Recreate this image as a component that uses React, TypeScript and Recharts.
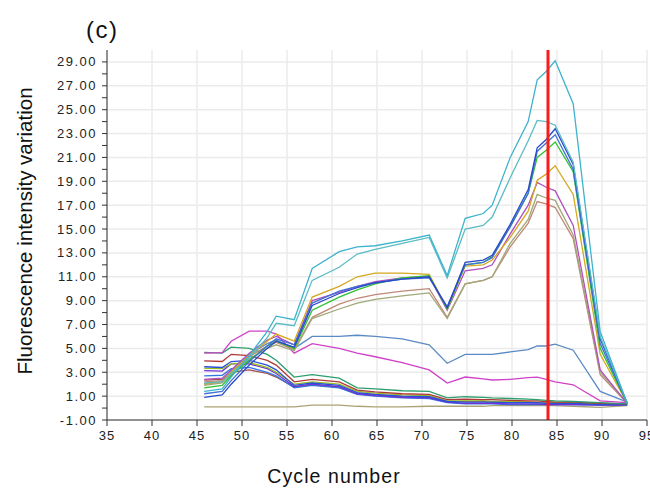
import { LineChart, Line, XAxis, YAxis, CartesianGrid, ReferenceLine } from "recharts";

// melt positions (x) shared by every curve
const cycles = [45.8, 47.8, 48.8, 50.8, 52.8, 53.8, 55.8, 57.8, 60.8, 62.8, 64.8, 67.8, 70.8, 72.8, 74.8, 76.8, 77.8, 79.8, 81.8, 82.8, 83.8, 84.8, 86.8, 89.8, 92.8];

const tealA = [1.4, 1.6, 2.6, 4.4, 6.4, 7.7, 7.4, 11.7, 13.1, 13.5, 13.6, 14.0, 14.5, 11.1, 15.9, 16.3, 17.0, 21.0, 24.0, 27.5, 28.2, 29.1, 25.5, 6.4, 0.4];
const tealB = [2.1, 2.2, 2.9, 4.2, 5.9, 7.1, 6.9, 10.7, 11.8, 12.9, 13.3, 13.8, 14.3, 10.9, 15.0, 15.3, 16.0, 19.3, 22.4, 24.1, 24.0, 23.7, 20.6, 6.0, 0.4];
const blueDark = [0.9, 1.1, 2.0, 3.6, 5.0, 5.6, 5.1, 8.6, 9.6, 10.1, 10.5, 10.8, 11.0, 8.4, 12.2, 12.4, 12.8, 15.4, 18.3, 21.8, 22.5, 23.4, 20.4, 5.8, 0.4];
const blueMid = [1.2, 1.4, 2.3, 3.9, 5.2, 5.8, 5.3, 8.8, 9.8, 10.2, 10.5, 10.8, 10.9, 8.5, 12.0, 12.2, 12.6, 15.2, 18.0, 21.5, 22.2, 22.9, 20.0, 5.4, 0.4];
const green = [1.7, 1.9, 2.7, 4.0, 5.2, 5.6, 5.0, 8.2, 9.3, 9.9, 10.4, 10.9, 11.1, 8.3, 12.0, 12.2, 12.7, 15.2, 18.0, 21.0, 21.6, 22.3, 19.8, 5.0, 0.4];
const gold = [2.0, 2.2, 3.0, 4.4, 5.6, 6.2, 5.6, 9.3, 10.2, 11.0, 11.3, 11.3, 11.2, 8.3, 11.9, 12.0, 12.4, 14.3, 16.5, 19.1, 19.6, 20.3, 17.9, 4.5, 0.4];
const purple = [2.4, 2.5, 3.2, 4.6, 5.7, 6.0, 5.3, 9.0, 9.7, 10.2, 10.6, 10.9, 11.0, 8.2, 11.5, 11.7, 12.0, 14.6, 17.0, 18.9, 18.5, 18.2, 15.3, 3.2, 0.4];
const olive = [1.9, 2.1, 2.8, 4.1, 5.0, 5.3, 4.8, 7.5, 8.3, 8.8, 9.1, 9.4, 9.65, 7.5, 10.4, 10.7, 11.0, 13.8, 15.8, 17.9, 17.6, 17.4, 14.5, 3.0, 0.4];
const rose = [2.2, 2.3, 3.0, 4.3, 5.2, 5.5, 4.9, 7.6, 8.7, 9.2, 9.5, 9.8, 10.0, 7.6, 10.4, 10.7, 11.0, 13.5, 15.5, 17.3, 17.1, 16.8, 14.2, 2.8, 0.4];
const steel = [2.0, 2.2, 3.1, 4.5, 5.4, 5.7, 5.0, 6.0, 6.0, 6.1, 6.0, 5.8, 5.3, 3.75, 4.5, 4.5, 4.5, 4.7, 4.9, 5.2, 5.2, 5.35, 4.85, 1.4, 0.5];
const magenta = [4.6, 4.65, 5.6, 6.45, 6.45, 6.2, 4.6, 5.4, 5.0, 4.6, 4.3, 3.8, 3.2, 2.1, 2.6, 2.45, 2.35, 2.4, 2.55, 2.6, 2.4, 2.2, 1.95, 0.6, 0.45];
const lowGreen = [4.66, 4.6, 5.1, 5.0, 4.5, 4.0, 2.6, 2.8, 2.5, 1.7, 1.6, 1.45, 1.4, 0.85, 0.95, 0.9, 0.85, 0.8, 0.75, 0.7, 0.65, 0.6, 0.55, 0.45, 0.35];
const lowRed = [3.96, 3.9, 4.5, 4.4, 4.0, 3.6, 2.2, 2.4, 2.2, 1.5, 1.35, 1.2, 1.15, 0.7, 0.75, 0.7, 0.7, 0.65, 0.6, 0.6, 0.55, 0.5, 0.5, 0.4, 0.35];
const lowBlue = [3.46, 3.4, 3.9, 4.0, 3.6, 3.2, 1.9, 2.1, 1.9, 1.3, 1.15, 1.0, 0.95, 0.55, 0.5, 0.5, 0.5, 0.45, 0.45, 0.45, 0.4, 0.4, 0.4, 0.3, 0.3];
const lowLime = [3.33, 3.3, 3.7, 3.8, 3.4, 3.0, 2.0, 2.2, 2.0, 1.4, 1.25, 1.1, 1.05, 0.6, 0.6, 0.6, 0.55, 0.55, 0.5, 0.5, 0.5, 0.45, 0.45, 0.35, 0.3];
const lowViolet = [3.13, 3.1, 3.7, 3.7, 3.3, 2.9, 1.8, 2.0, 1.8, 1.2, 1.05, 0.9, 0.85, 0.5, 0.4, 0.4, 0.4, 0.35, 0.35, 0.35, 0.3, 0.3, 0.3, 0.25, 0.25];
const lowSky = [2.7, 2.75, 3.3, 3.4, 3.0, 2.7, 1.7, 1.9, 1.7, 1.15, 1.0, 0.85, 0.8, 0.45, 0.35, 0.35, 0.35, 0.3, 0.3, 0.3, 0.3, 0.3, 0.3, 0.25, 0.25];
const lowBrick = [2.35, 2.4, 3.0, 3.2, 2.9, 2.6, 1.75, 1.95, 1.75, 1.2, 1.1, 0.95, 0.9, 0.55, 0.55, 0.55, 0.5, 0.5, 0.5, 0.45, 0.45, 0.45, 0.4, 0.35, 0.3];
const flat = [0.1, 0.1, 0.1, 0.1, 0.1, 0.1, 0.1, 0.25, 0.25, 0.15, 0.1, 0.1, 0.15, 0.15, 0.15, 0.15, 0.2, 0.2, 0.2, 0.2, 0.2, 0.2, 0.15, 0.05, 0.2];

const xTicks = [35, 40, 45, 50, 55, 60, 65, 70, 75, 80, 85, 90, 95];
const yTicks = [-1, 0, 1, 2, 3, 4, 5, 6, 7, 8, 9, 10, 11, 12, 13, 14, 15, 16, 17, 18, 19, 20, 21, 22, 23, 24, 25, 26, 27, 28, 29];
const yLabels = [-1, 1, 3, 5, 7, 9, 11, 13, 15, 17, 19, 21, 23, 25, 27, 29];

const series = [
  { key: "flat", color: "#aaa274", values: flat },
  { key: "lowBrick", color: "#a85050", values: lowBrick },
  { key: "lowSky", color: "#3078e0", values: lowSky },
  { key: "lowViolet", color: "#7030d8", values: lowViolet },
  { key: "lowLime", color: "#98c020", values: lowLime },
  { key: "lowBlue", color: "#2850d8", values: lowBlue },
  { key: "lowRed", color: "#b03838", values: lowRed },
  { key: "lowGreen", color: "#2e9e6e", values: lowGreen },
  { key: "magenta", color: "#d040c8", values: magenta },
  { key: "steel", color: "#5b8bc4", values: steel },
  { key: "rose", color: "#c08878", values: rose },
  { key: "olive", color: "#a0a878", values: olive },
  { key: "purple", color: "#b050c0", values: purple },
  { key: "gold", color: "#d4a820", values: gold },
  { key: "green", color: "#30c030", values: green },
  { key: "blueMid", color: "#4070d8", values: blueMid },
  { key: "blueDark", color: "#2848c8", values: blueDark },
  { key: "tealB", color: "#5bbcc4", values: tealB },
  { key: "tealA", color: "#3db3cc", values: tealA },
];

const data = cycles.map((c, i) => {
  const row: Record<string, number> = { cycle: c };
  series.forEach((s) => (row[s.key] = s.values[i]));
  return row;
});

const font = "Arial, 'Liberation Sans', sans-serif";

const YTick = ({ x, y, payload }: any) => {
  const v = payload.value;
  if (Math.abs(v % 2) !== 1) return <g />;
  return (
    <text x={x} y={y} dy={4.5} textAnchor="end" fontSize={13} letterSpacing={1.5} fill="#222" fontFamily={font}>
      {v.toFixed(2)}
    </text>
  );
};

export default function App() {
  return (
    <div style={{ position: "absolute", left: 0, top: 0, width: 650, height: 489, background: "#fff" }}>
      <LineChart width={650} height={489} data={data} margin={{ top: 50, right: 3, left: 0, bottom: 39 }}>
        <CartesianGrid horizontal={false} stroke="#ebebeb" strokeWidth={1.5} />
        {yLabels.map((v) => (
          <ReferenceLine key={v} y={v} stroke="#ebebeb" strokeWidth={1.5} />
        ))}
        <XAxis
          dataKey="cycle"
          type="number"
          domain={[35, 95]}
          ticks={xTicks}
          interval={0}
          tickSize={6}
          tickMargin={5}
          axisLine={{ stroke: "#333" }}
          tickLine={{ stroke: "#333" }}
          tick={{ fontSize: 13, fill: "#222", fontFamily: font, letterSpacing: 1 }}
          height={30}
        />
        <YAxis
          type="number"
          domain={[-1, 30]}
          ticks={yTicks}
          interval={0}
          width={107}
          tickSize={5}
          tickMargin={5}
          axisLine={{ stroke: "#333" }}
          tickLine={{ stroke: "#333" }}
          tick={<YTick />}
        />
        {series.map((s) => (
          <Line
            key={s.key}
            dataKey={s.key}
            stroke={s.color}
            strokeWidth={1.3}
            dot={false}
            activeDot={false}
            type="linear"
            isAnimationActive={false}
          />
        ))}
        <ReferenceLine x={84} stroke="#ff1a1a" strokeWidth={3} />
      </LineChart>
      <svg width={650} height={489} style={{ position: "absolute", left: 0, top: 0, pointerEvents: "none" }}>
        <text x={86} y={38} fontSize={24} letterSpacing={1.5} fill="#111" fontFamily={font}>
          (c)
        </text>
        <text
          x={32}
          y={231}
          transform="rotate(-90 32 231)"
          textAnchor="middle"
          fontSize={20.5}
          fill="#111"
          fontFamily={font}
        >
          Fluorescence intensity variation
        </text>
        <text x={334} y={483} textAnchor="middle" fontSize={19.5} letterSpacing={1.1} fill="#111" fontFamily={font}>
          Cycle number
        </text>
      </svg>
    </div>
  );
}
